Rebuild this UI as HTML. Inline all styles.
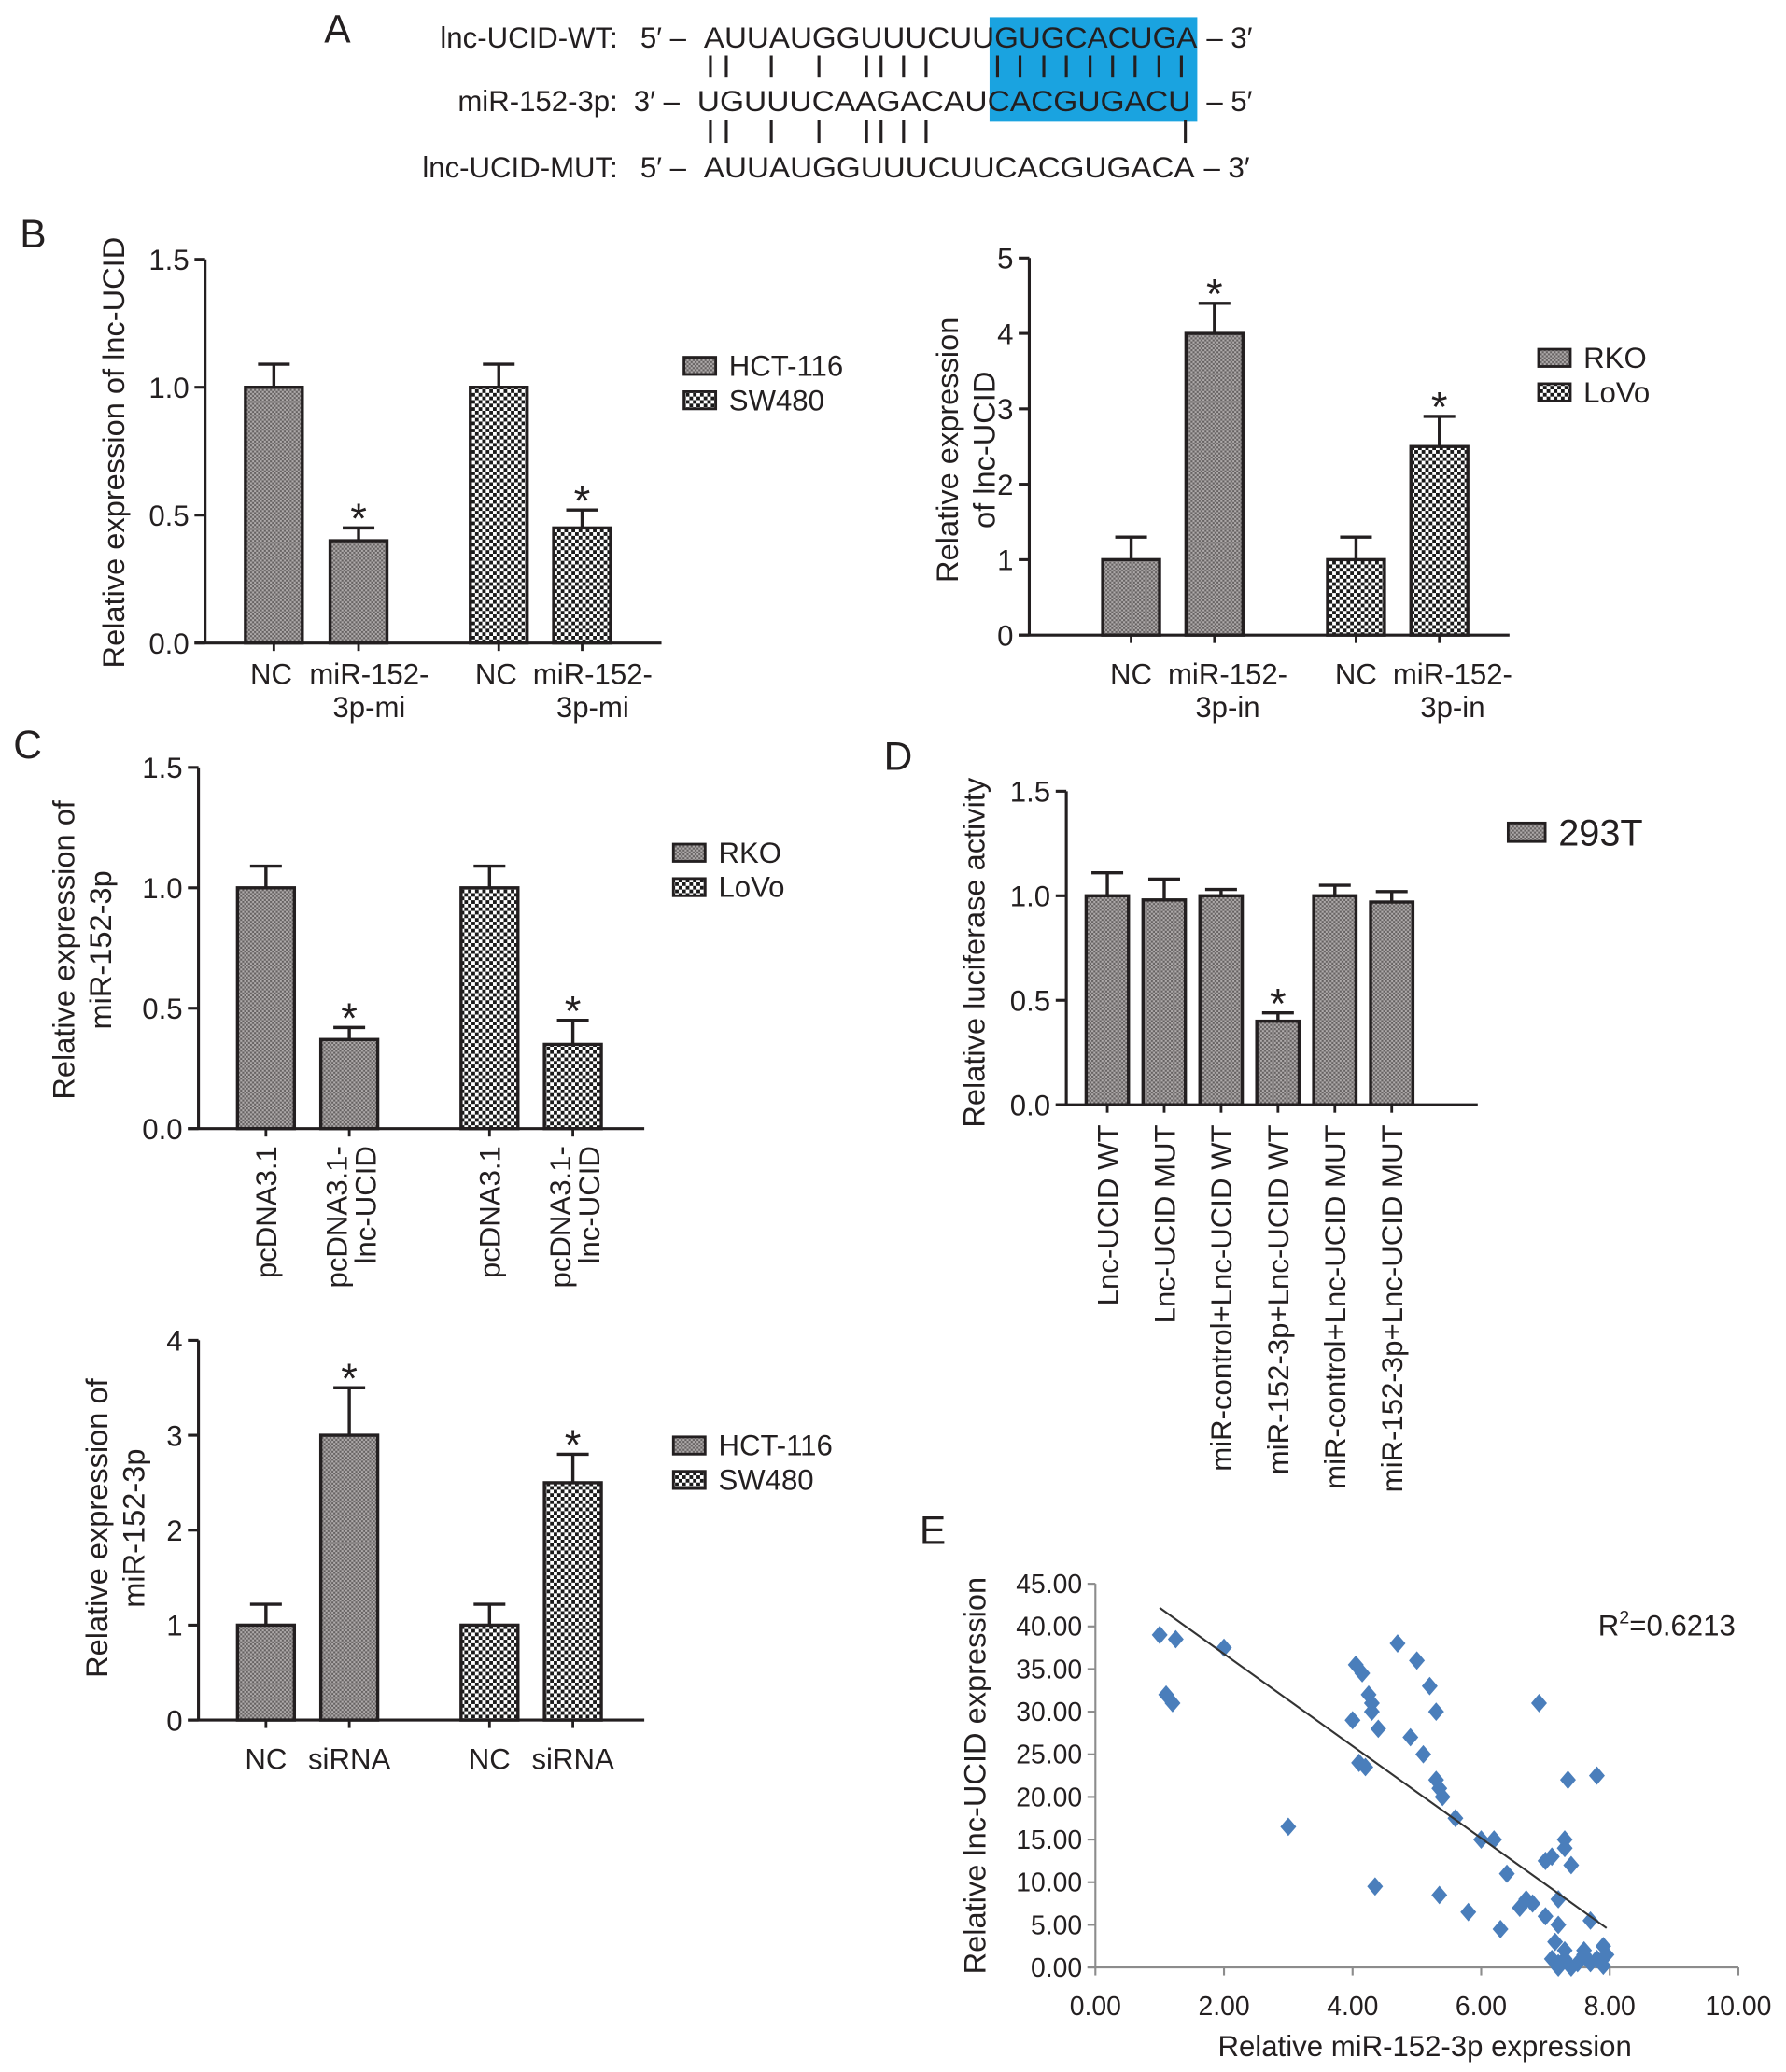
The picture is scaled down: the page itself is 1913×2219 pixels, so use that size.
<!DOCTYPE html>
<html><head><meta charset="utf-8"><style>
html,body{margin:0;padding:0;background:#fff}
svg{display:block}
text{font-family:"Liberation Sans",Arial,sans-serif;fill:#231f20}
</style></head><body>
<svg id="fig" xmlns="http://www.w3.org/2000/svg" width="1913" height="2219" viewBox="0 0 1350 1566">
<defs>
<pattern id="p1" width="3" height="3" patternUnits="userSpaceOnUse"><rect width="3" height="3" fill="#aeaaaa"/><rect width="1.5" height="1.5" fill="#666262"/><rect x="1.5" y="1.5" width="1.5" height="1.5" fill="#666262"/></pattern>
<pattern id="p2" width="5.4" height="5.4" patternUnits="userSpaceOnUse"><rect width="5.4" height="5.4" fill="#fff"/><rect width="2.7" height="2.7" fill="#1a1a1a"/><rect x="2.7" y="2.7" width="2.7" height="2.7" fill="#1a1a1a"/></pattern>
</defs>
<g id="panelA">
<text x="245" y="32" font-size="30">A</text>
<rect x="748" y="13" width="157" height="79" fill="#1aa3e0"/>
<text x="467" y="36" font-size="22" text-anchor="end">lnc-UCID-WT:</text>
<text x="484" y="36" font-size="22">5′ –</text>
<text x="532" y="36" font-size="22" textLength="373" lengthAdjust="spacingAndGlyphs">AUUAUGGUUUCUUGUGCACUGA</text>
<text x="912" y="36" font-size="22">– 3′</text>
<text x="467" y="84" font-size="22" text-anchor="end">miR-152-3p:</text>
<text x="479" y="84" font-size="22">3′ –</text>
<text x="527" y="84" font-size="22" textLength="373" lengthAdjust="spacingAndGlyphs">UGUUUCAAGACAUCACGUGACU</text>
<text x="912" y="84" font-size="22">– 5′</text>
<text x="467" y="134" font-size="22" text-anchor="end">lnc-UCID-MUT:</text>
<text x="484" y="134" font-size="22">5′ –</text>
<text x="532" y="134" font-size="22" textLength="371" lengthAdjust="spacingAndGlyphs">AUUAUGGUUUCUUCACGUGACA</text>
<text x="910" y="134" font-size="22">– 3′</text>
<g id="pairs" stroke="#231f20" stroke-width="2.2"></g>
</g>
<g id="charts"></g>
</svg>
<script>
// ---- Panel B left ----
const bLeftCats = ["NC", "miR-152-3p-mi", "NC", "miR-152-3p-mi"];
const bLeftValues = [1.0, 0.40, 1.0, 0.45];
const bLeftErrors = [0.09, 0.05, 0.09, 0.07];
const bLeftTicks = ["0.0", "0.5", "1.0", "1.5"];
const bLeftLegend = ["HCT-116", "SW480"];
// ---- Panel B right ----
const bRightCats = ["NC", "miR-152-3p-in", "NC", "miR-152-3p-in"];
const bRightValues = [1.0, 4.0, 1.0, 2.5];
const bRightErrors = [0.3, 0.4, 0.3, 0.4];
const bRightTicks = ["0", "1", "2", "3", "4", "5"];
const bRightLegend = ["RKO", "LoVo"];
// ---- Panel C top ----
const cTopCats = ["pcDNA3.1", "pcDNA3.1-lnc-UCID", "pcDNA3.1", "pcDNA3.1-lnc-UCID"];
const cTopValues = [1.0, 0.37, 1.0, 0.35];
const cTopErrors = [0.09, 0.05, 0.09, 0.1];
const cTopTicks = ["0.0", "0.5", "1.0", "1.5"];
const cTopLegend = ["RKO", "LoVo"];
// ---- Panel C bottom ----
const cBotCats = ["NC", "siRNA", "NC", "siRNA"];
const cBotValues = [1.0, 3.0, 1.0, 2.5];
const cBotErrors = [0.22, 0.5, 0.22, 0.3];
const cBotTicks = ["0", "1", "2", "3", "4"];
const cBotLegend = ["HCT-116", "SW480"];
// ---- Panel D ----
const dCats = ["Lnc-UCID WT", "Lnc-UCID MUT", "miR-control+Lnc-UCID WT", "miR-152-3p+Lnc-UCID WT", "miR-control+Lnc-UCID MUT", "miR-152-3p+Lnc-UCID MUT"];
const dValues = [1.0, 0.98, 1.0, 0.40, 1.0, 0.97];
const dErrors = [0.11, 0.10, 0.03, 0.04, 0.05, 0.05];
const dStars = [false, false, false, true, false, false];
const dTicks = ["0.0", "0.5", "1.0", "1.5"];
// ---- Panel E ----
const eX = [1.0,1.1,1.2,1.25,2.0,3.0,4.0,4.05,4.15,4.1,4.2,4.25,4.3,4.35,4.4,4.3,4.7,4.9,5.0,5.1,5.2,5.3,5.3,5.35,5.4,5.35,5.6,5.8,6.0,6.2,6.3,6.4,6.6,6.7,6.8,6.9,7.0,7.0,7.1,7.2,7.2,7.3,7.3,7.4,7.35,7.15,7.3,7.5,7.2,7.3,7.6,7.7,7.8,7.8,7.9,7.9,7.7,7.4,7.6,7.1,7.2,7.95];
const eY = [39,32,31,38.5,37.5,16.5,29,35.5,34.5,24,23.5,32,31,9.5,28,30,38,27,36,25,33,30,22,21,20,8.5,17.5,6.5,15,15,4.5,11,7,8,7.5,31,12.5,6,13,8,5,15,14,12,22,3,2,0.5,0.5,1,2,5.5,22.5,1,2.5,0.2,0.5,0,1.5,1,0,1.5];
const eXTicks = ["0.00","2.00","4.00","6.00","8.00","10.00"];
const eYTicks = ["0.00","5.00","10.00","15.00","20.00","25.00","30.00","35.00","40.00","45.00"];

const NS = "http://www.w3.org/2000/svg";
const root = document.getElementById("charts");
function mk(tag, attrs, parent, txt) {
  const e = document.createElementNS(NS, tag);
  for (const k in attrs) e.setAttribute(k, attrs[k]);
  if (txt !== undefined) e.textContent = txt;
  (parent || root).appendChild(e);
  return e;
}

const pairs = document.getElementById("pairs");
[537,549,583,619,655,666,683,700,754,771,789,806,824,841,858,876,893].forEach(x => {
  const l = mk("line", {x1:x, y1:42, x2:x, y2:58}, pairs);
  
  
});
[537,549,583,619,655,666,683,700,896].forEach(x => {
  const l = mk("line", {x1:x, y1:91, x2:x, y2:108}, pairs);
  
  
});

function barChart(o) {
  const g = mk("g", {});
  
  
  const maxV = o.ticks.length - 1;
  const tickStep = o.tickStep;
  const yScale = v => o.y0 - (v / (maxV * tickStep)) * (o.y0 - o.yTop);
  const ax = mk("line", {x1:o.x0, y1:o.yTop, x2:o.x0, y2:o.y0, stroke:"#231f20", "stroke-width":2.2}, g);
  
  
  const xa = mk("line", {x1:o.x0-8, y1:o.y0, x2:o.xEnd, y2:o.y0, stroke:"#231f20", "stroke-width":2.2}, g);
  
  
  o.ticks.forEach((t, i) => {
    const y = yScale(i * tickStep);
    const tl = mk("line", {x1:o.x0-8, y1:y, x2:o.x0, y2:y, stroke:"#231f20", "stroke-width":2.2}, g);
    
    
    const tt = mk("text", {x:o.x0-12, y:y+8, "font-size":22, "text-anchor":"end"}, g, t);
    
    
  });
  o.values.forEach((v, i) => {
    const cx = o.centers[i];
    const x = cx - o.bw/2, y = yScale(v);
    const ey = yScale(v + o.errors[i]);
    const el = mk("line", {x1:cx, y1:y, x2:cx, y2:ey, stroke:"#231f20", "stroke-width":2.4}, g);
    
    
    const ec = mk("line", {x1:cx-12, y1:ey, x2:cx+12, y2:ey, stroke:"#231f20", "stroke-width":2.4}, g);
    
    
    const r = mk("rect", {x:x, y:y, width:o.bw, height:o.y0-y, fill:"url(#"+o.pats[i]+")", stroke:"#231f20", "stroke-width":2.4}, g);
    
    
    const tk = mk("line", {x1:cx, y1:o.y0, x2:cx, y2:o.y0+6, stroke:"#231f20", "stroke-width":2}, g);
    
    
    if (o.stars[i]) {
      const s = mk("text", {x:cx, y:ey+4, "font-size":32, "text-anchor":"middle"}, g, "*");
      
      
    }
  });
  return {g, yScale};
}

function legend(g, x, ys, labels, pats) {
  labels.forEach((l, i) => {
    const r = mk("rect", {x:x, y:ys[i]-14, width:24, height:13, fill:"url(#"+pats[i]+")", stroke:"#231f20", "stroke-width":2}, g);
    
    
    const t = mk("text", {x:x+34, y:ys[i], "font-size":22}, g, l);
    
    
  });
}
function txt(g, x, y, s, size, anchor, name, rot) {
  const a = {x:x, y:y, "font-size":size, "text-anchor":anchor || "start"};
  if (rot) a.transform = "rotate(-90 " + x + " " + y + ")";
  const t = mk("text", a, g, s);
  
  
  return t;
}
const pat4 = ["p1","p1","p2","p2"];

let c = barChart({name:"chart-b-left", x0:155, y0:486, yTop:196, xEnd:500, ticks:bLeftTicks, tickStep:0.5,
  values:bLeftValues, errors:bLeftErrors, centers:[207,271,377,440], bw:43, pats:pat4, stars:[false,true,false,true]});
txt(c.g, 15, 187, "B", 30, "start", "panel-label-b");
txt(c.g, 94, 342, "Relative expression of lnc-UCID", 23, "middle", "y-axis-title", true);
[0,1,2,3].forEach(i => {
  if (bLeftCats[i] === "NC") txt(c.g, [207,271,377,440][i]-2, 517, "NC", 22, "middle", "x-label");
  else { txt(c.g, [207,271,377,440][i]+8, 517, "miR-152-", 22, "middle", "x-label"); txt(c.g, [207,271,377,440][i]+8, 542, "3p-mi", 22, "middle", "x-label"); }
});
legend(c.g, 517, [284, 310], bLeftLegend, ["p1","p2"]);

c = barChart({name:"chart-b-right", x0:778, y0:480, yTop:195, xEnd:1141, ticks:bRightTicks, tickStep:1,
  values:bRightValues, errors:bRightErrors, centers:[855,918,1025,1088], bw:43, pats:pat4, stars:[false,true,false,true]});
txt(c.g, 724, 340, "Relative expression", 23, "middle", "y-axis-title", true);
txt(c.g, 752, 340, "of lnc-UCID", 23, "middle", "y-axis-title", true);
[855,918,1025,1088].forEach((x,i) => {
  if (i % 2 === 0) txt(c.g, x, 517, "NC", 22, "middle", "x-label");
  else { txt(c.g, x+10, 517, "miR-152-", 22, "middle", "x-label"); txt(c.g, x+10, 542, "3p-in", 22, "middle", "x-label"); }
});
legend(c.g, 1163, [278, 304], bRightLegend, ["p1","p2"]);

c = barChart({name:"chart-c-top", x0:150, y0:853, yTop:580, xEnd:487, ticks:cTopTicks, tickStep:0.5,
  values:cTopValues, errors:cTopErrors, centers:[201,264,370,433], bw:43, pats:pat4, stars:[false,true,false,true]});
txt(c.g, 10, 573, "C", 30, "start", "panel-label-c");
txt(c.g, 56, 718, "Relative expression of", 23, "middle", "y-axis-title", true);
txt(c.g, 84, 718, "miR-152-3p", 23, "middle", "y-axis-title", true);
[201,264,370,433].forEach((x,i) => {
  if (i % 2 === 0) txt(c.g, x+8, 866, "pcDNA3.1", 22, "end", "x-label", true);
  else { txt(c.g, x-2, 866, "pcDNA3.1-", 22, "end", "x-label", true); txt(c.g, x+20, 866, "lnc-UCID", 22, "end", "x-label", true); }
});
legend(c.g, 509, [652, 678], cTopLegend, ["p1","p2"]);

c = barChart({name:"chart-c-bottom", x0:150, y0:1300, yTop:1013, xEnd:487, ticks:cBotTicks, tickStep:1,
  values:cBotValues, errors:cBotErrors, centers:[201,264,370,433], bw:43, pats:pat4, stars:[false,true,false,true]});
txt(c.g, 81, 1155, "Relative expression of", 23, "middle", "y-axis-title", true);
txt(c.g, 109, 1155, "miR-152-3p", 23, "middle", "y-axis-title", true);
[201,264,370,433].forEach((x,i) => txt(c.g, x, 1337, cBotCats[i], 22, "middle", "x-label"));
legend(c.g, 509, [1100, 1126], cBotLegend, ["p1","p2"]);

const dCenters = [837,880,923,966,1009,1052];
c = barChart({name:"chart-d", x0:806, y0:835, yTop:598, xEnd:1117, ticks:dTicks, tickStep:0.5,
  values:dValues, errors:dErrors, centers:dCenters, bw:32, pats:["p1","p1","p1","p1","p1","p1"], stars:dStars});
txt(c.g, 668, 582, "D", 30, "start", "panel-label-d");
txt(c.g, 744, 720, "Relative luciferase activity", 23, "middle", "y-axis-title", true);
dCats.forEach((s,i) => txt(c.g, dCenters[i]+8, 850, s, 22, "end", "x-label", true));
const dr = mk("rect", {x:1140, y:622, width:28, height:14, fill:"url(#p1)", stroke:"#231f20", "stroke-width":2}, c.g);


const dl = mk("text", {x:1178, y:639, "font-size":28}, c.g, "293T");



const eg = mk("g", {});


const ex0 = 828, ex1 = 1314, ey0 = 1487, ey1 = 1197;
const sx = v => ex0 + v / 10 * (ex1 - ex0);
const sy = v => ey0 - v / 45 * (ey0 - ey1);
txt(eg, 695, 1167, "E", 30, "start", "panel-label-e");
const eya = mk("line", {x1:ex0, y1:ey1, x2:ex0, y2:ey0, stroke:"#8c8c8c", "stroke-width":1.5}, eg);


const exa = mk("line", {x1:ex0-6, y1:ey0, x2:ex1, y2:ey0, stroke:"#8c8c8c", "stroke-width":1.5}, eg);


eYTicks.forEach((t,i) => {
  const y = sy(i*5);
  const l = mk("line", {x1:ex0-6, y1:y, x2:ex0, y2:y, stroke:"#8c8c8c", "stroke-width":1.5}, eg);
  
  
  txt(eg, 818, y+7, t, 20, "end", "y-tick-label");
});
eXTicks.forEach((t,i) => {
  const x = sx(i*2);
  const l = mk("line", {x1:x, y1:ey0, x2:x, y2:ey0+6, stroke:"#8c8c8c", "stroke-width":1.5}, eg);
  
  
  txt(eg, x, 1523, t, 20, "middle", "x-tick-label");
});
txt(eg, 1077, 1554, "Relative miR-152-3p expression", 22, "middle", "x-axis-title");
txt(eg, 745, 1342, "Relative lnc-UCID expression", 23, "middle", "y-axis-title", true);
const r2 = mk("text", {x:1208, y:1236, "font-size":22}, eg);


r2.innerHTML = 'R<tspan dy="-9" font-size="14">2</tspan><tspan dy="9">=0.6213</tspan>';
eX.forEach((xv,i) => {
  const x = sx(xv), y = sy(eY[i]);
  const p = mk("polygon", {points:`${x},${y-7} ${x+6},${y} ${x},${y+7} ${x-6},${y}`, fill:"#4a7ebb"}, eg);
  
  
});
const n = eX.length;
const mx = eX.reduce((a,b)=>a+b,0)/n, my = eY.reduce((a,b)=>a+b,0)/n;
let sxy = 0, sxx = 0;
for (let i=0;i<n;i++){ sxy += (eX[i]-mx)*(eY[i]-my); sxx += (eX[i]-mx)**2; }
const slope = sxy/sxx, icp = my - slope*mx;
const xa0 = Math.min(...eX), xa1 = Math.max(...eX);
const tl = mk("line", {x1:sx(xa0), y1:sy(icp+slope*xa0), x2:sx(xa1), y2:sy(icp+slope*xa1), stroke:"#333", "stroke-width":1.5}, eg);


</script>
</body></html>
